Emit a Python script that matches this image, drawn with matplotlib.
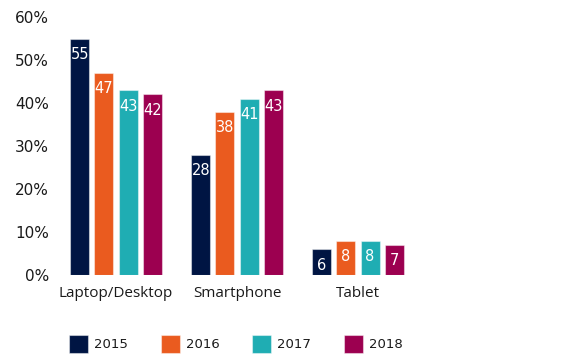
import numpy as np
import matplotlib
matplotlib.use("Agg")
import matplotlib.pyplot as plt

plt.rcParams["font.family"] = ["DejaVu Sans"]

# Data
categories = ["Laptop/Desktop", "Smartphone", "Tablet"]
years = ["2015", "2016", "2017", "2018"]
values = {
    "2015": [55, 28, 6],
    "2016": [47, 38, 8],
    "2017": [43, 41, 8],
    "2018": [42, 43, 7],
}
colors = ["#001543", "#ea5b1f", "#1fadb3", "#9c0050"]

fig = plt.figure(figsize=(5.73, 3.61), dpi=100)
# axes placed in pixels: left 55, y=0 at 275px, y=60 at 17px
W, H = 573, 361
ax = fig.add_axes([55 / W, (H - 275) / H, (W - 55) / W, 258 / H])

x = np.arange(len(categories))
pitch = 0.2
width = 0.157

for i, yr in enumerate(years):
    xs = x + (i - 1.5) * pitch
    ax.bar(xs, values[yr], width=width, color=colors[i],
           edgecolor=(1, 1, 1, 0.45), linewidth=0.8, label=yr)
    for bx, v in zip(xs, values[yr]):
        ax.annotate(str(v), (bx, v), xytext=(0, -16), textcoords="offset pixels",
                    ha="center", va="center", color="white", fontsize=10.5)

ax.set_ylim(0, 60)
ax.set_xlim(-61 / 121, (W - 55 - 61) / 121)
ax.set_yticks(range(0, 61, 10))
ax.set_yticklabels([f"{t}%" for t in range(0, 61, 10)], fontsize=11)
ax.set_xticks(x)
ax.set_xticklabels(categories, fontsize=11, family="Open Sans")
ax.tick_params(axis="both", length=0, colors="#1a1a1a")
ax.tick_params(axis="y", pad=4.5)
ax.tick_params(axis="x", pad=8)
for s in ax.spines.values():
    s.set_visible(False)

fig.legend(loc="center left", bbox_to_anchor=(57 / W, (H - 344) / H), ncol=4,
           frameon=False, fontsize=9.5, handlelength=1.44, handleheight=1.72,
           handletextpad=0.45, columnspacing=2.5, labelcolor="#1a1a1a")

plt.savefig("out.png", dpi=100)
